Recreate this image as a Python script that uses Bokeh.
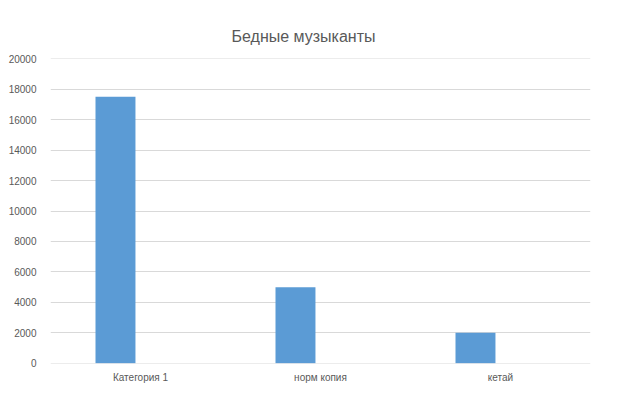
from bokeh.plotting import figure
from bokeh.models import ColumnDataSource, FactorRange, Range1d, SingleIntervalTicker
from bokeh.transform import dodge
from bokeh.embed import file_html
from bokeh.resources import INLINE

categories = ["Категория 1", "норм копия", "кетай"]
values = [17500, 5000, 2000]
title_text = "Бедные музыканты"

FONT = "Liberation Sans"
TXT = "#595959"

src = ColumnDataSource(data=dict(cat=categories, val=values))

p = figure(x_range=FactorRange(*categories, range_padding=0), y_range=Range1d(-12, 20012),
           frame_width=540, frame_height=305,
           min_border_left=50, min_border_right=20, min_border_top=58, min_border_bottom=20,
           output_backend="svg", toolbar_location=None, title=title_text)

p.vbar(x=dodge("cat", -0.139, range=p.x_range), top="val", width=0.222, source=src,
       fill_color="#5B9BD5", line_color=None)

p.title.align = "left"
p.title.offset = 181
p.title.standoff = 27
p.title.text_font = FONT
p.title.text_font_size = "16px"
p.title.text_font_style = "normal"
p.title.text_color = TXT

p.outline_line_color = None
p.background_fill_color = "white"
p.border_fill_color = "white"

p.yaxis.ticker = SingleIntervalTicker(interval=2000)
p.ygrid.ticker = SingleIntervalTicker(interval=2000)
p.ygrid.grid_line_color = "#d9d9d9"
p.xgrid.grid_line_color = None
for ax in (p.xaxis, p.yaxis):
    ax.axis_line_color = None
    ax.major_tick_line_color = None
    ax.minor_tick_line_color = None
    ax.major_tick_out = 0
    ax.major_tick_in = 0
    ax.minor_tick_out = 0
    ax.minor_tick_in = 0
    ax.major_label_text_font = FONT
    ax.major_label_text_font_size = "10px"
    ax.major_label_text_color = TXT
p.yaxis.major_label_standoff = 14
p.xaxis.major_label_standoff = 8

open("out.html", "w").write(file_html(p, INLINE))
